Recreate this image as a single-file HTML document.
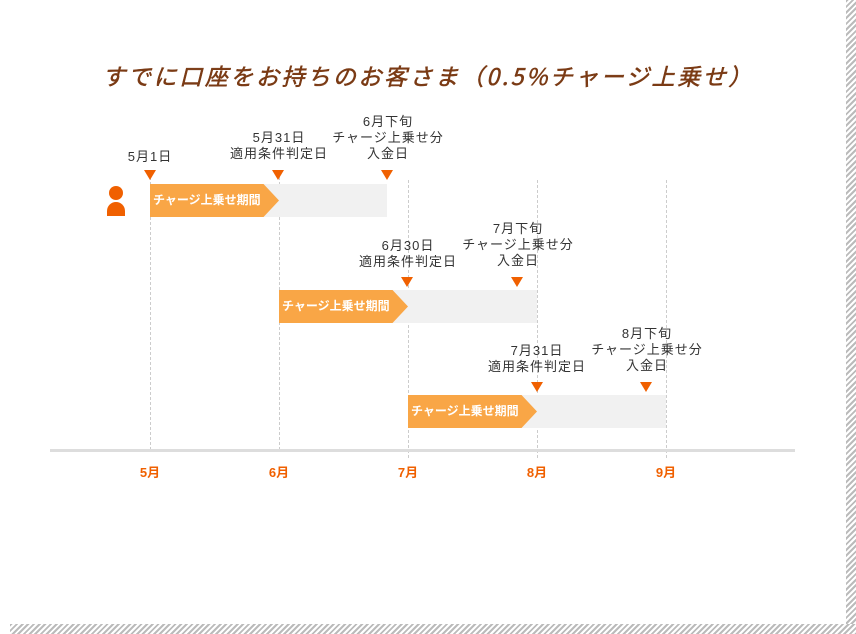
<!DOCTYPE html><html><head><meta charset="utf-8"><style>
body{margin:0;width:856px;height:634px;overflow:hidden;background:#fff;font-family:"Liberation Sans","Noto Sans CJK JP",sans-serif;}
.hatch{position:absolute;background:repeating-linear-gradient(135deg,#bbb 0 2px,#fff 2px 4px);}
.t{position:absolute;font-size:13px;color:#333;text-align:center;line-height:16px;width:140px;letter-spacing:1px}
.tri{position:absolute;width:0;height:0;border-left:6px solid transparent;border-right:6px solid transparent;border-top:10px solid #f06000}
.v{position:absolute;top:172px;height:278px;border-left:1px dashed #ccc}
.g{position:absolute;height:33px;background:#f1f1f1}
.a{position:absolute;height:33px;background:#f9a646;color:#fff;font-size:12px;font-weight:bold;line-height:33px;padding-left:3px;box-sizing:border-box;white-space:nowrap;clip-path:polygon(0 0,88% 0,100% 50%,88% 100%,0 100%)}
.m{position:absolute;top:462px;width:40px;text-align:center;color:#f06000;font-weight:bold;font-size:13px}
</style></head><body>
<div class="hatch" style="left:846px;top:0;width:10px;height:634px"></div>
<div class="hatch" style="left:10px;top:624px;width:846px;height:10px"></div>
<div style="position:absolute;left:0;top:58px;width:856px;text-align:center;font-size:23px;font-style:italic;color:#7a3a14;letter-spacing:2.6px;-webkit-text-stroke:0.5px #7a3a14;font-family:'Noto Sans CJK JP',sans-serif">すでに口座をお持ちのお客さま（0.5%チャージ上乗せ）</div>
<div class="v" style="left:150px"></div><div class="v" style="left:279px"></div><div class="v" style="left:408px;top:180px"></div><div class="v" style="left:537px;top:180px"></div><div class="v" style="left:666px;top:180px"></div>
<div class="g" style="left:150px;top:184px;width:237px"></div>
<div class="a" style="left:150px;top:184px;width:129px">チャージ上乗せ期間</div>
<div class="g" style="left:279px;top:290px;width:258px"></div>
<div class="a" style="left:279px;top:290px;width:129px">チャージ上乗せ期間</div>
<div class="g" style="left:408px;top:395px;width:258px"></div>
<div class="a" style="left:408px;top:395px;width:129px">チャージ上乗せ期間</div>
<div style="position:absolute;left:109px;top:186px;width:14px;height:14px;border-radius:50%;background:#f06000"></div>
<div style="position:absolute;left:107px;top:202px;width:18px;height:14px;border-radius:9px 9px 0 0;background:#f06000"></div>
<div class="tri" style="left:144px;top:170px"></div><div class="tri" style="left:272px;top:170px"></div><div class="tri" style="left:381px;top:170px"></div>
<div class="tri" style="left:401px;top:277px"></div><div class="tri" style="left:511px;top:277px"></div>
<div class="tri" style="left:531px;top:382px"></div><div class="tri" style="left:640px;top:382px"></div>
<div class="t" style="left:80px;top:149px">5月1日</div>
<div class="t" style="left:209px;top:130px">5月31日<br>適用条件判定日</div>
<div class="t" style="left:318px;top:114px">6月下旬<br>チャージ上乗せ分<br>入金日</div>
<div class="t" style="left:338px;top:238px">6月30日<br>適用条件判定日</div>
<div class="t" style="left:448px;top:221px">7月下旬<br>チャージ上乗せ分<br>入金日</div>
<div class="t" style="left:467px;top:343px">7月31日<br>適用条件判定日</div>
<div class="t" style="left:577px;top:326px">8月下旬<br>チャージ上乗せ分<br>入金日</div>
<div style="position:absolute;left:50px;top:449px;width:745px;height:3px;background:#ddd"></div>
<div class="m" style="left:130px">5月</div><div class="m" style="left:259px">6月</div><div class="m" style="left:388px">7月</div><div class="m" style="left:517px">8月</div><div class="m" style="left:646px">9月</div>
</body></html>
